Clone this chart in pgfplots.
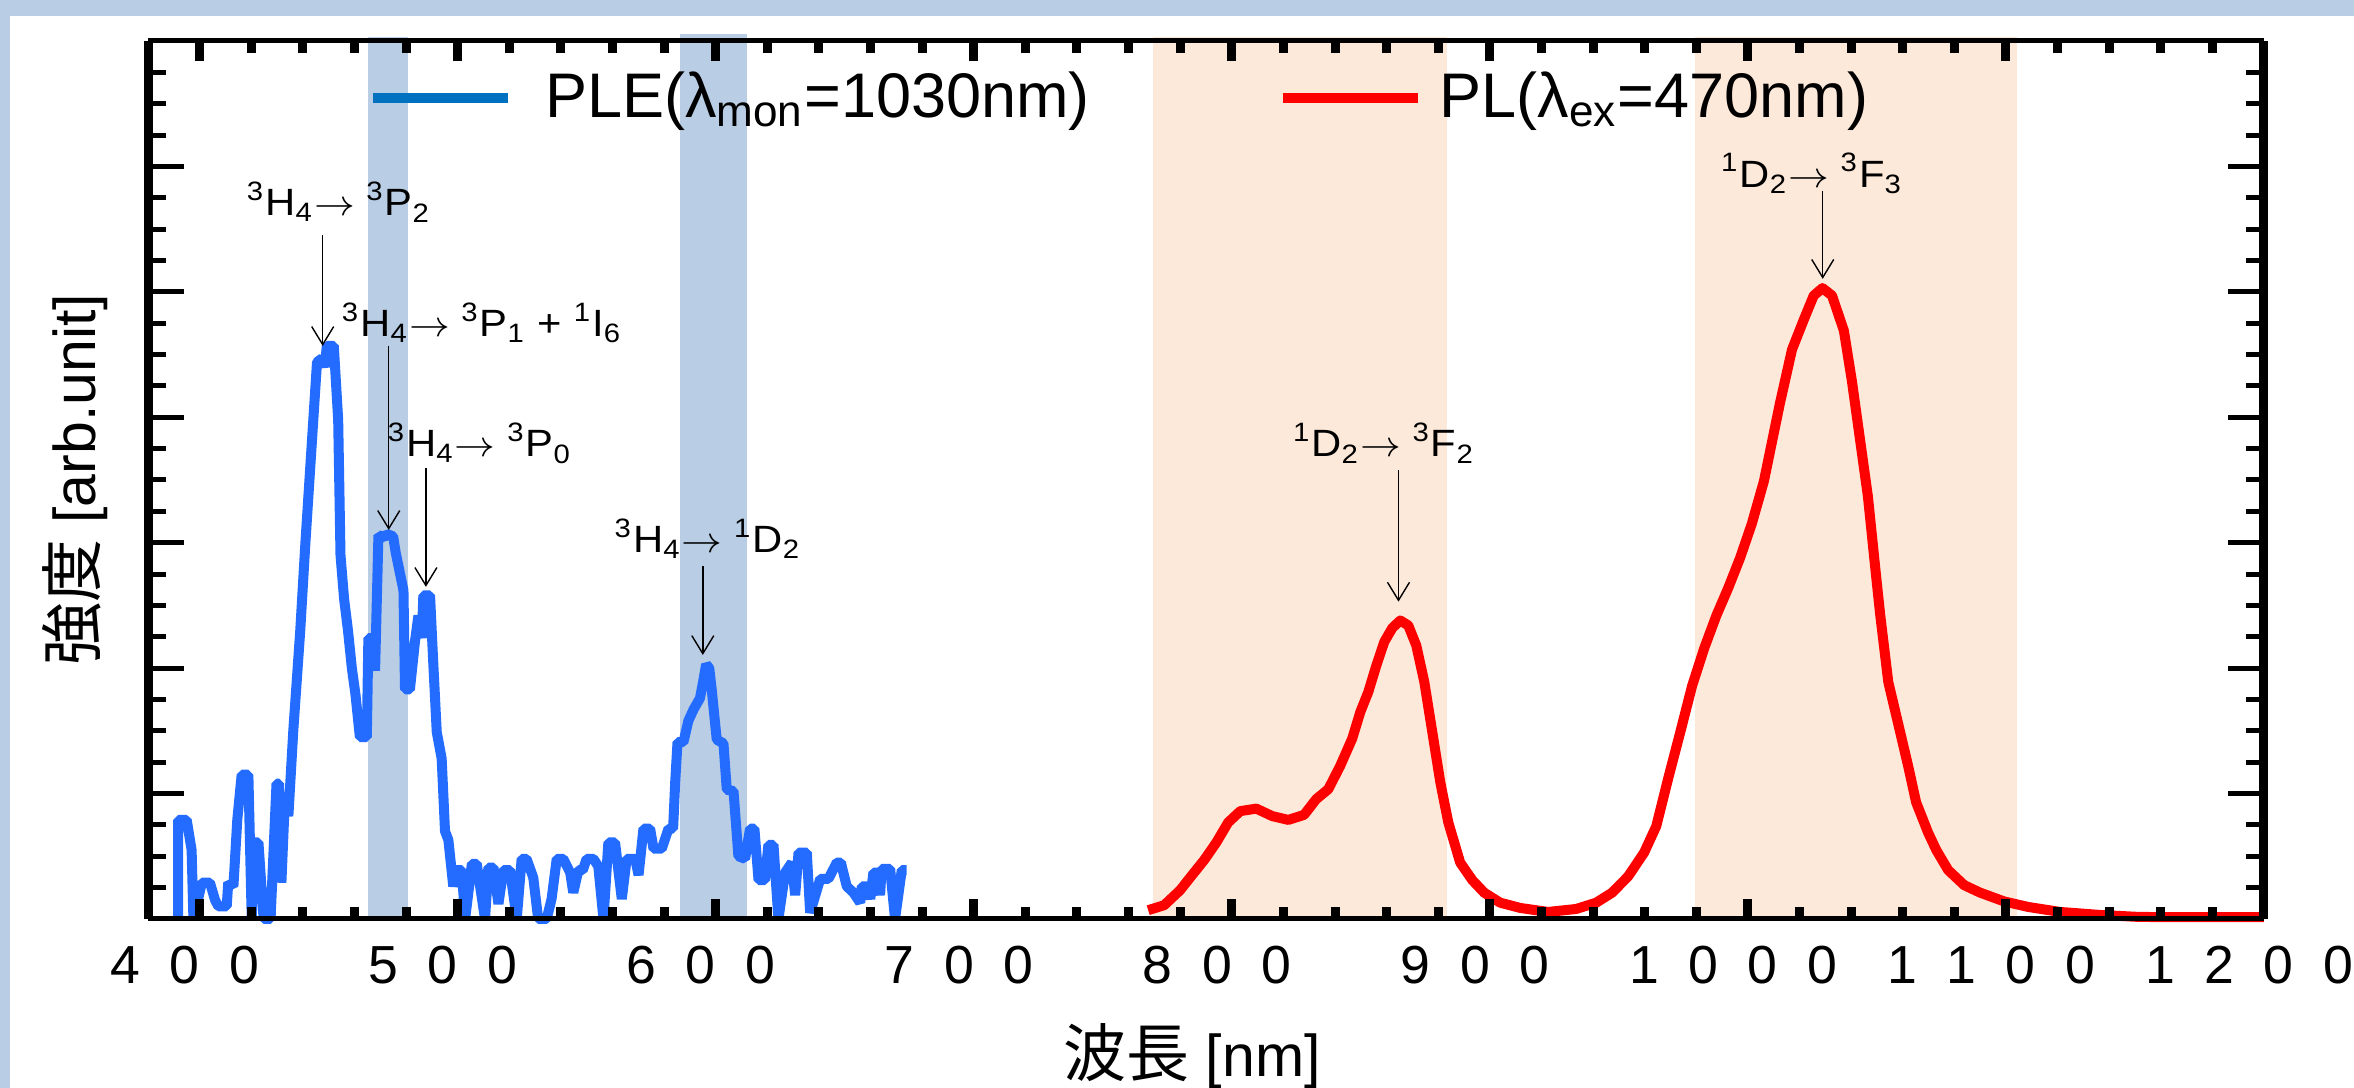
\documentclass[border=0pt]{standalone}
\usepackage{fontspec}
\setmainfont{Liberation Sans}
\newfontfamily\cjk{Noto Sans CJK JP}
\usepackage{pgfplots}
\pgfplotsset{compat=1.18}
\usetikzlibrary{arrows.meta}

\definecolor{frameblue}{HTML}{B9CDE5}
\definecolor{bandorange}{HTML}{FDE9D9}
\definecolor{pleblue}{HTML}{236CFF}
\definecolor{legblue}{HTML}{0070C0}
\definecolor{plred}{HTML}{FF0000}

\newcommand{\dd}{\kern7.4pt}
\newcommand{\annfont}{\fontsize{9.5pt}{11pt}\selectfont}
\newcommand{\up}[1]{\textsuperscript{#1}}
\newcommand{\dn}[1]{\textsubscript{#1}}
\newcommand{\ar}{$\rightarrow$}

% PLE, monitored at 1030 nm
\pgfplotstableread{
nm val
391.7 0
391.7 0.79
395.0 0.79
396.9 0.55
397.6 0
400.9 0.29
404.0 0.29
406.0 0.15
407.3 0.10
410.5 0.10
411.1 0.29
413.1 0.26
414.6 0.79
416.3 1.15
418.9 1.15
420.2 0
421.2 0.61
422.8 0.61
424.8 0
427.5 0
429.8 1.08
430.8 1.08
431.7 0.29
433.1 0.98
434.4 0.82
436.3 1.50
439.0 2.30
441.0 3.00
443.5 3.80
445.5 4.44
447.5 4.47
448.5 4.40
449.3 4.57
452.0 4.57
453.7 3.98
454.6 2.90
456.0 2.55
457.5 2.30
459.0 2.00
460.4 1.79
462.1 1.45
464.8 1.45
465.4 2.24
466.5 2.24
468.0 1.98
469.3 3.06
471.5 3.04
472.5 3.07
475.0 3.05
476.0 2.92
479.0 2.62
479.6 1.83
481.5 1.83
483.5 2.22
484.8 2.42
486.1 2.24
486.7 2.58
489.3 2.58
490.6 2.02
491.9 1.49
493.8 1.28
495.1 0.70
496.4 0.63
498.3 0.26
499.6 0.39
501.6 0.39
502.9 0
505.5 0.44
507.4 0.44
510.6 0
511.9 0.41
513.9 0.41
515.8 0.12
517.7 0.39
520.3 0.39
522.9 0
524.8 0.48
526.7 0.48
529.3 0.33
531.2 0
534.5 0
536.4 0.16
538.4 0.48
540.9 0.48
543.6 0.37
544.8 0.21
546.8 0.39
548.5 0.39
550.0 0.48
552.6 0.48
554.5 0.42
556.5 0
558.4 0.61
561.0 0.61
563.6 0.16
565.5 0.48
568.8 0.48
570.1 0.35
572.0 0.72
574.6 0.72
575.9 0.56
579.1 0.56
581.7 0.72
583.5 0.72
584.3 1.09
585.2 1.41
587.5 1.41
589.4 1.58
591.4 1.67
593.9 1.76
595.2 1.90
596.3 2.03
597.5 2.00
598.5 1.82
600.4 1.43
603.0 1.40
604.3 1.03
606.9 1.02
608.8 0.50
611.4 0.48
613.3 0.72
615.0 0.72
616.6 0.31
619.1 0.31
620.4 0.59
622.4 0.59
624.3 0
626.9 0.37
629.5 0.45
630.8 0.19
632.1 0.53
635.3 0.53
636.6 0.05
640.5 0.32
643.7 0.32
646.9 0.45
648.5 0.45
650.8 0.26
653.4 0.21
656.0 0.13
656.6 0.26
658.6 0.26
659.9 0.16
661.1 0.37
662.5 0.37
663.7 0.19
664.3 0.40
667.6 0.40
669.5 0
672.1 0.39
674.0 0.39
}\pletable

% PL, excited at 470 nm
\pgfplotstableread{
nm val
767.6 0.07
773.8 0.11
780.0 0.23
784.6 0.35
789.3 0.47
794.0 0.61
798.6 0.77
803.3 0.86
809.5 0.88
815.7 0.82
821.9 0.79
828.0 0.83
832.7 0.955
837.4 1.035
842.0 1.22
846.7 1.44
849.8 1.65
852.9 1.81
856.0 2.02
859.1 2.21
862.2 2.32
865.3 2.38
868.4 2.34
871.5 2.18
874.6 1.89
877.7 1.49
880.8 1.09
883.9 0.77
888.5 0.45
893.2 0.31
897.8 0.21
904.0 0.13
911.8 0.088
922.6 0.056
933.5 0.08
941.2 0.13
947.4 0.21
953.6 0.34
959.8 0.53
964.5 0.74
969.1 1.12
973.8 1.49
978.4 1.86
983.1 2.16
987.8 2.42
992.4 2.64
997.0 2.88
1001.5 3.15
1006.2 3.49
1012.4 4.11
1017.1 4.54
1021.7 4.78
1025.5 4.97
1028.9 5.03
1032.6 4.97
1037.2 4.69
1040.3 4.29
1043.4 3.83
1046.5 3.37
1049.6 2.75
1051.3 2.42
1054.4 1.89
1059.0 1.49
1062.1 1.22
1065.2 0.93
1069.8 0.69
1073.0 0.55
1077.6 0.39
1083.8 0.27
1090.0 0.21
1099.3 0.14
1108.6 0.096
1121.0 0.056
1136.6 0.032
1152.0 0.016
1200.0 0.014
}\pltable

\begin{document}
\begin{tikzpicture}
\fill[frameblue] (0,0) rectangle (588.5pt,272pt);
\fill[white] (2.5pt,0) rectangle (588.5pt,268pt);

\begin{axis}[
    at={(37pt,42.25pt)}, anchor=south west,
    scale only axis, width=529pt, height=219.5pt,
    xmin=380, xmax=1200, ymin=0, ymax=7,
    xtick={400,500,...,1200},
    xticklabels={\mbox{4\dd0\dd0\dd}, \mbox{5\dd0\dd0\dd}, \mbox{6\dd0\dd0\dd},
        \mbox{7\dd0\dd0\dd}, \mbox{8\dd0\dd0\dd}, \mbox{9\dd0\dd0\dd},
        \mbox{1\dd0\dd0\dd0\dd}, \mbox{1\dd1\dd0\dd0\dd}, \mbox{1\dd2\dd0\dd0\dd}},
    minor x tick num=4,
    ytick=\empty,
    tick align=inside,
    major tick length=5pt, minor tick length=3pt,
    xtick style={line width=2.25pt, black},
    separate axis lines,
    x axis line style={line width=1.25pt},
    y axis line style={line width=2.25pt},
    axis on top, clip=false,
    xticklabel style={font=\fontsize{13.4pt}{16pt}\selectfont, inner sep=0pt, yshift=-6.5pt},
    xlabel={{\cjk\fontsize{15.75pt}{18pt}\selectfont 波長} [nm]},
    xlabel style={at={(axis description cs:0.5,0)}, anchor=base, inner sep=0pt,
        yshift=-39.5pt, xshift=-3.5pt, font=\fontsize{14.75pt}{18pt}\selectfont},
    ylabel={{\cjk\fontsize{15.75pt}{18pt}\selectfont 強度} [arb.unit]},
    ylabel style={at={(axis description cs:-0.0187,0.5)}, anchor=south, inner sep=0pt,
        font=\fontsize{14.75pt}{18pt}\selectfont},
    legend columns=2,
    legend image code/.code={\draw[#1] (0pt,0pt) -- (33.75pt,0pt);},
    legend style={draw=none, fill=none, inner sep=0pt, outer sep=0pt,
        at={(rel axis cs:0.104,0.935)}, anchor=west,
        font=\fontsize{15.75pt}{18pt}\selectfont,
        nodes={inner sep=0pt},
        /tikz/every odd column/.append style={column sep=4.25pt},
        /tikz/every even column/.append style={column sep=47pt}},
]
% shaded regions
\fill[frameblue] (axis cs:465.2,0) rectangle (axis cs:480.7,7.03);
\fill[frameblue] (axis cs:586.2,0.024) rectangle (axis cs:612.1,7.055);
\fill[bandorange] (axis cs:769.5,0) rectangle (axis cs:883.3,7.03);
\fill[bandorange] (axis cs:979.6,0) rectangle (axis cs:1104.3,7.03);

\addplot[pleblue, line width=2.5pt, line join=bevel, forget plot] table[x=nm, y=val] {\pletable};
\addplot[plred, line width=2.5pt, line join=round, forget plot] table[x=nm, y=val] {\pltable};

\addlegendimage{legblue, line width=2.5pt}
\addlegendentry{\hspace*{3.75pt}PLE(λ\dn{mon}=1030nm)}
\addlegendimage{plred, line width=2.5pt}
\addlegendentry{PL(λ\dn{ex}=470nm)}

% transitions
\tikzset{ann/.style={anchor=base west, inner sep=0pt, font=\annfont, xscale=1.1},
         arr/.style={-{Straight Barb[length=4.5pt,width=5.5pt]}, line width=0.35pt}}
\node[ann] at (axis cs:418.0,5.606) {\up{3}H\dn{4}\ar\ \up{3}P\dn{2}};
\node[ann] at (axis cs:454.8,4.644) {\up{3}H\dn{4}\ar\ \up{3}P\dn{1} + \up{1}I\dn{6}};
\node[ann] at (axis cs:472.6,3.684) {\up{3}H\dn{4}\ar\ \up{3}P\dn{0}};
\node[ann] at (axis cs:560.5,2.920) {\up{3}H\dn{4}\ar\ \up{1}D\dn{2}};
\node[ann] at (axis cs:823.4,3.684) {\up{1}D\dn{2}\ar\ \up{3}F\dn{2}};
\node[ann] at (axis cs:989.3,5.835) {\up{1}D\dn{2}\ar\ \up{3}F\dn{3}};
\draw[arr] (axis cs:447.7,5.455) -- (axis cs:447.7,4.569);
\draw[arr] (axis cs:473.3,4.569) -- (axis cs:473.3,3.102);
\draw[arr] (axis cs:487.7,3.592) -- (axis cs:487.7,2.648);
\draw[arr] (axis cs:595.0,2.815) -- (axis cs:595.0,2.105);
\draw[arr] (axis cs:864.6,3.577) -- (axis cs:864.6,2.530);
\draw[arr] (axis cs:1029.0,5.805) -- (axis cs:1029.0,5.104);
\end{axis}

% y ticks, longer than the x ticks
\begin{axis}[
    at={(37pt,42.25pt)}, anchor=south west,
    scale only axis, width=529pt, height=219.5pt,
    xmin=380, xmax=1200, ymin=0, ymax=7,
    xtick=\empty, ytick={0,1,...,7}, minor y tick num=3,
    yticklabels={,,,,,,,},
    tick align=inside,
    major tick length=9pt, minor tick length=4.5pt,
    ytick style={line width=1.25pt, black},
    axis line style={draw=none},
]
\end{axis}

\pgfresetboundingbox
\useasboundingbox (0,0) rectangle (588.5pt,272pt);
\end{tikzpicture}
\end{document}
